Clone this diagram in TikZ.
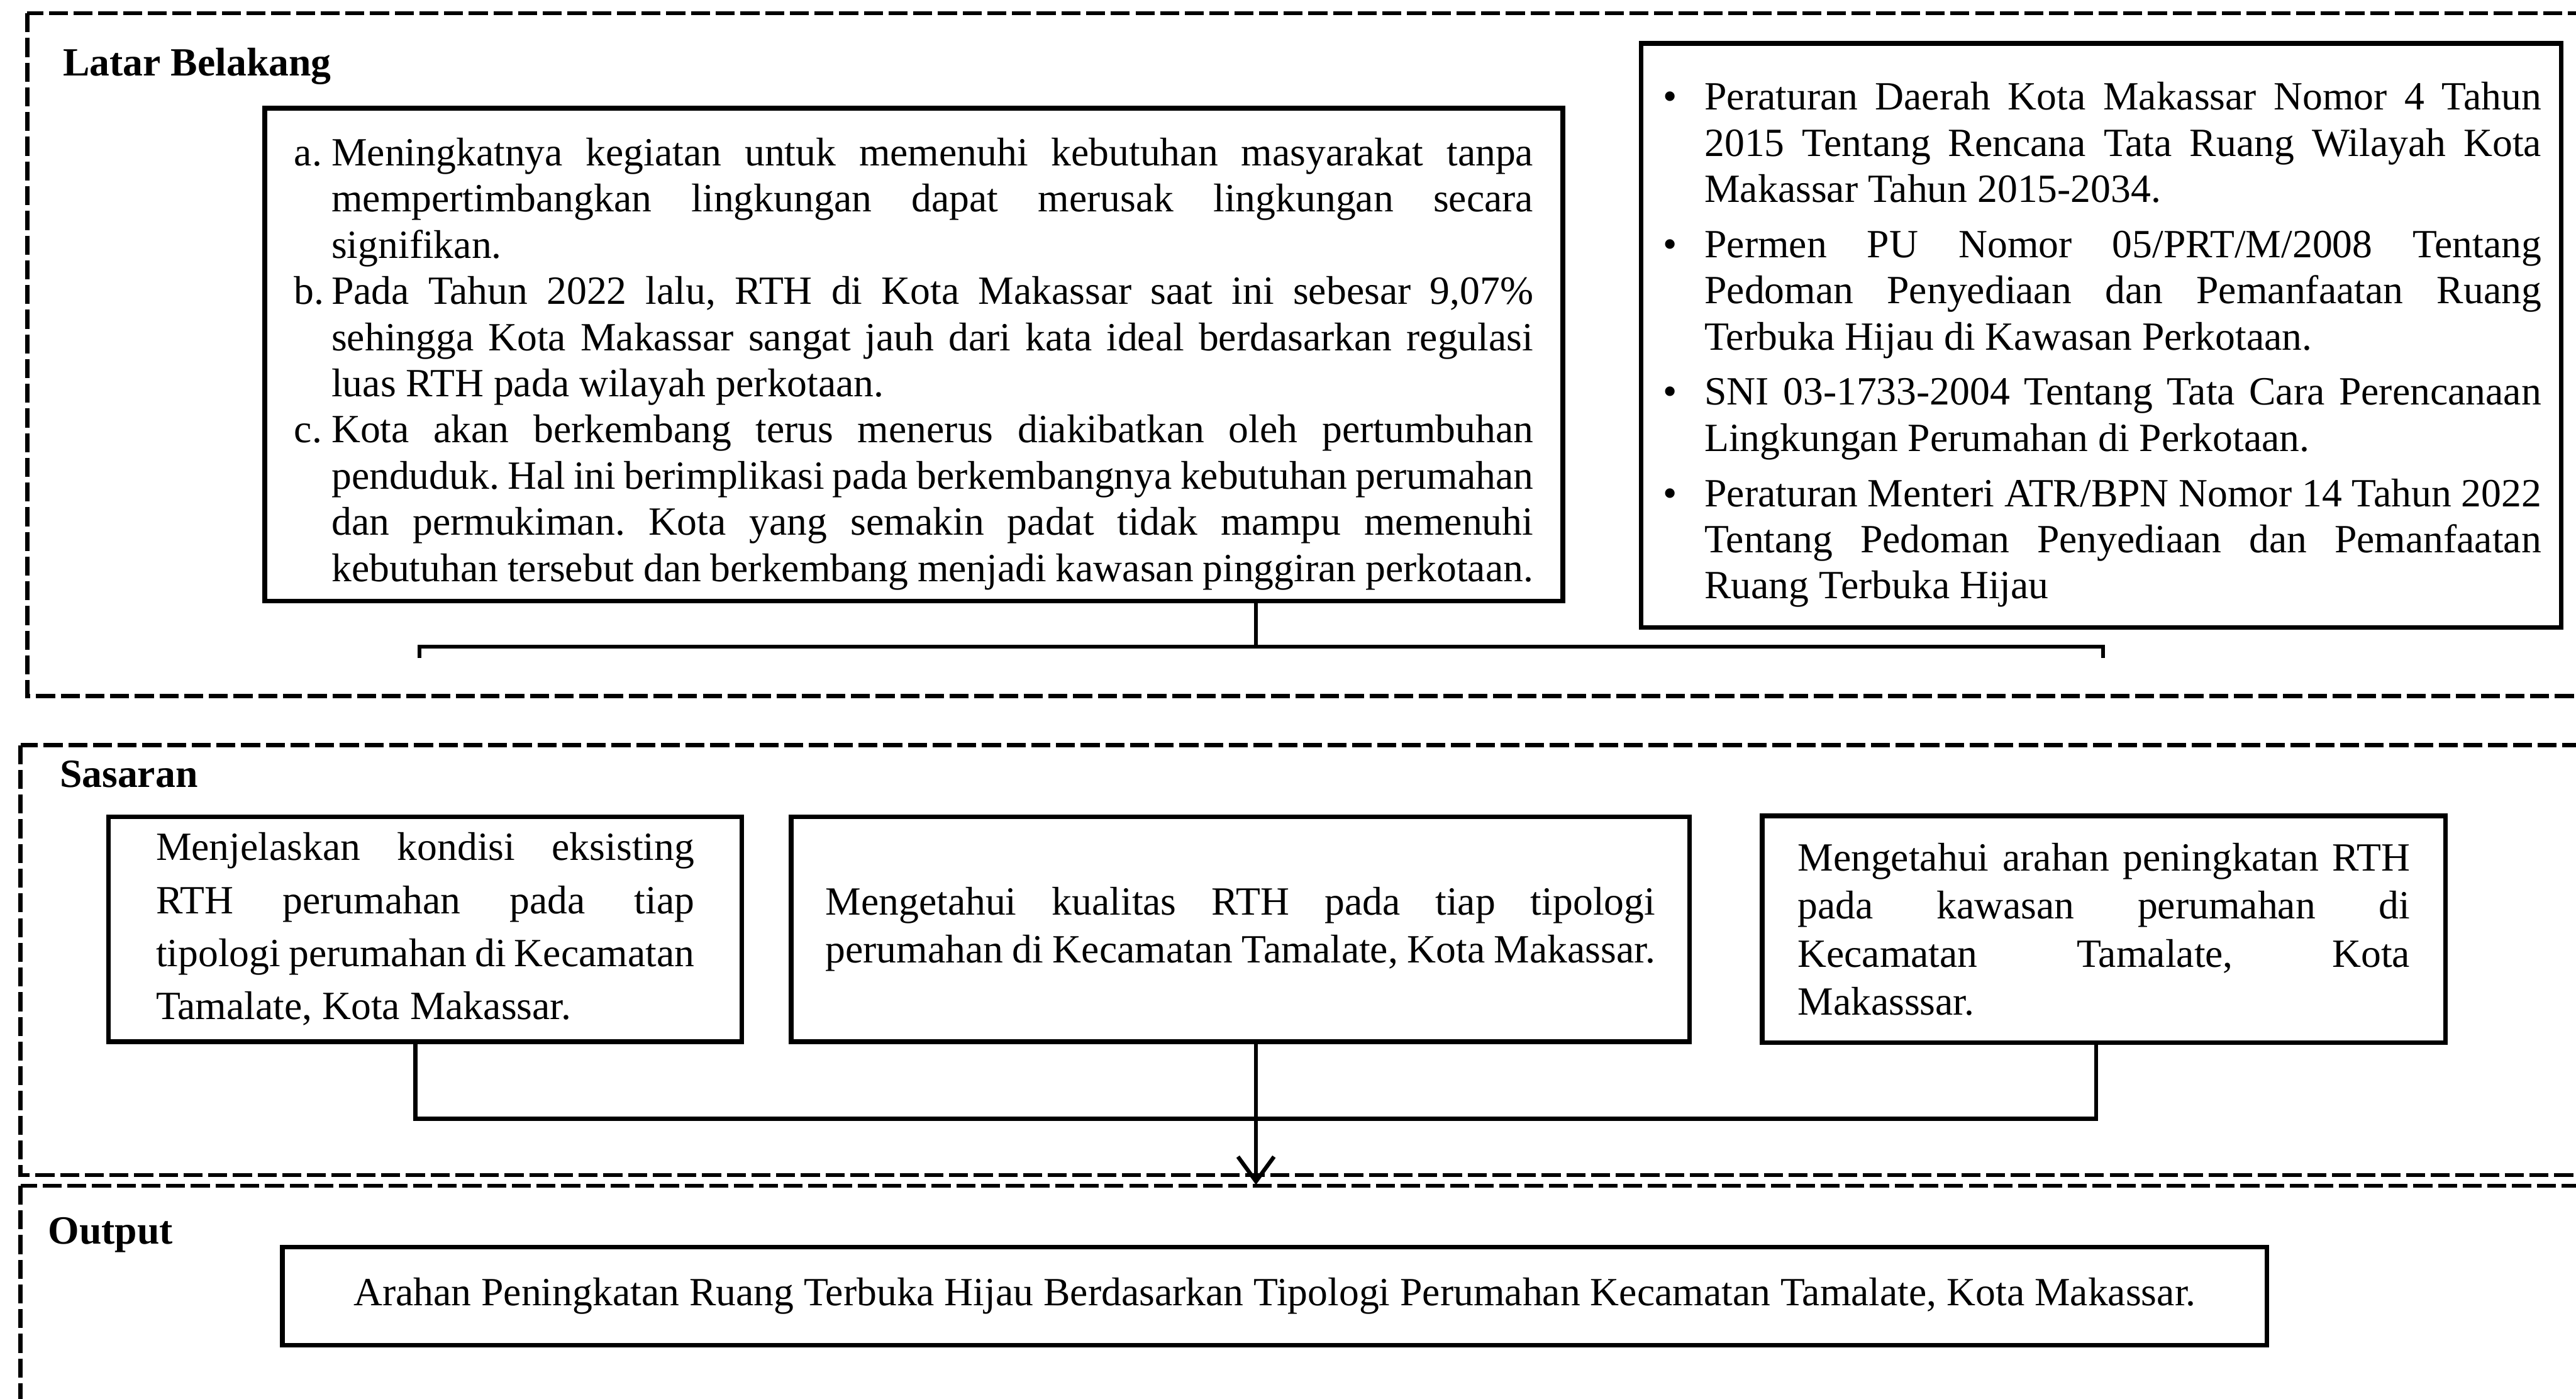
\documentclass[tikz,border=0pt]{standalone}
\usepackage{fontspec}
\setmainfont{Liberation Serif}
\usepackage{tikz}
\usetikzlibrary{arrows.meta, positioning, calc}
\frenchspacing
\newcommand{\lbitem}[2]{\par\noindent\hangindent=#1\hangafter=1\makebox[#1][l]{#2}\ignorespaces}
\tikzset{
    % Node styles
    textbox/.style={
        rectangle,
        draw=black,
        line width=1.4pt,
        align=justify,
        inner sep=0pt,
        font=\fontsize{12}{13.84}\selectfont
    },
    titletext/.style={
        anchor=base west,
        inner sep=0pt,
        font=\fontsize{12}{13.84}\selectfont\bfseries
    },
    % Panel style
    panel/.style={
        draw=black,
        line width=1.2pt,
        dash pattern=on 5.7pt off 1.7pt
    },
    % Arrow styles
    conn/.style={
        draw=black,
        line width=1.2pt
    },
    myarrow/.style={
        conn,
        -{Straight Barb[length=0.26cm,width=0.38cm]}
    }
}
\begin{document}
\begin{tikzpicture}[x=0.0173cm, y=-0.0173cm]
    \useasboundingbox (0,0) rectangle (1568,851);

    % dashed panels
    \draw[panel] (16.6,8.1) rectangle (1575,423.6);
    \draw[panel] (12.5,453.5) rectangle (1575,715);
    \draw[panel] (12.5,721.5) rectangle (1575,870);

    \node[titletext] (tLatar) at (38,46) {Latar Belakang};
    \node[titletext] (tSasaran) at (36,479) {Sasaran};
    \node[titletext] (tOutput) at (29,757) {Output};

    % Latar Belakang
    \node[textbox, text width=13.05cm, minimum width=13.67cm, minimum height=5.19cm] (latar) at (556.2,215.9) {%
        \lbitem{0.393cm}{a.}Meningkatnya kegiatan untuk memenuhi kebutuhan masyarakat tanpa\linebreak mempertimbangkan lingkungan dapat merusak lingkungan secara\linebreak signifikan.
        \lbitem{0.393cm}{b.}Pada Tahun 2022 lalu, RTH di Kota Makassar saat ini sebesar 9,07\%\linebreak sehingga Kota Makassar sangat jauh dari kata ideal berdasarkan regulasi\linebreak luas RTH pada wilayah perkotaan.
        \lbitem{0.393cm}{c.}Kota akan berkembang terus menerus diakibatkan oleh pertumbuhan\linebreak penduduk. Hal ini berimplikasi pada berkembangnya kebutuhan perumahan\linebreak dan permukiman. Kota yang semakin padat tidak mampu memenuhi\linebreak kebutuhan tersebut dan berkembang menjadi kawasan pinggiran perkotaan.\par};

    \node[textbox, text width=9.27cm, minimum width=9.69cm, minimum height=6.15cm] (regulasi) at (1279,204.2) {%
        \lbitem{0.457cm}{\hspace{0.02cm}\textbullet}Peraturan Daerah Kota Makassar Nomor 4 Tahun\linebreak 2015 Tentang Rencana Tata Ruang Wilayah Kota\linebreak Makassar Tahun 2015-2034.
        \par\vspace{2.7pt}
        \lbitem{0.457cm}{\hspace{0.02cm}\textbullet}Permen PU Nomor 05/PRT/M/2008 Tentang\linebreak Pedoman Penyediaan dan Pemanfaatan Ruang\linebreak Terbuka Hijau di Kawasan Perkotaan.
        \par\vspace{2.7pt}
        \lbitem{0.457cm}{\hspace{0.02cm}\textbullet}SNI 03-1733-2004 Tentang Tata Cara Perencanaan\linebreak Lingkungan Perumahan di Perkotaan.
        \par\vspace{2.7pt}
        \lbitem{0.457cm}{\hspace{0.02cm}\textbullet}Peraturan Menteri ATR/BPN Nomor 14 Tahun 2022\linebreak Tentang Pedoman Penyediaan dan Pemanfaatan\linebreak Ruang Terbuka Hijau\par};

    \coordinate (lbL) at (255.3,393.5);
    \coordinate (lbR) at (1280,393.5);
    \coordinate (lbM) at (764.5,393.5);
    \draw[conn] ($(lbL)+(0,7)$) -- (lbL) -- (lbR) -- ($(lbR)+(0,7)$);
    \draw[conn] (latar.south -| lbM) -- (lbM);

    % Sasaran
    \node[textbox, text width=5.67cm, minimum width=6.67cm, minimum height=2.37cm, font=\fontsize{12}{15.9}\selectfont] (sas1) at (258.8,565.5) {%
        Menjelaskan kondisi eksisting\linebreak RTH perumahan pada tiap\linebreak tipologi perumahan di Kecamatan\linebreak Tamalate, Kota Makassar.};
    \node[textbox, text width=8.74cm, minimum width=9.46cm, minimum height=2.37cm, font=\fontsize{12}{14.4}\selectfont] (sas2) at (755,565.5) {%
        Mengetahui kualitas RTH pada tiap tipologi\linebreak perumahan di Kecamatan Tamalate, Kota Makassar.};
    \node[textbox, text width=6.45cm, minimum width=7.2cm, minimum height=2.39cm, font=\fontsize{12}{14.4}\selectfont] (sas3) at (1280.6,565.5) {%
        Mengetahui arahan peningkatan RTH\linebreak pada kawasan perumahan di\linebreak Kecamatan Tamalate, Kota\linebreak Makasssar.};

    \coordinate (jn1) at (252.8,680.8);
    \coordinate (jn3) at (1276,680.8);
    \coordinate (arrEnd) at (764.5,721);
    \draw[conn] (sas1.south -| jn1) -- (jn1) -- (jn3) -- (sas3.south -| jn3);
    \draw[myarrow] (sas2.south -| arrEnd) -- (arrEnd);

    % Output
    \node[textbox, align=center, minimum width=20.9cm, minimum height=1.033cm] (hasil) at (775.85,788.85) {Arahan Peningkatan Ruang Terbuka Hijau Berdasarkan Tipologi Perumahan Kecamatan Tamalate, Kota Makassar.};
\end{tikzpicture}
\end{document}
